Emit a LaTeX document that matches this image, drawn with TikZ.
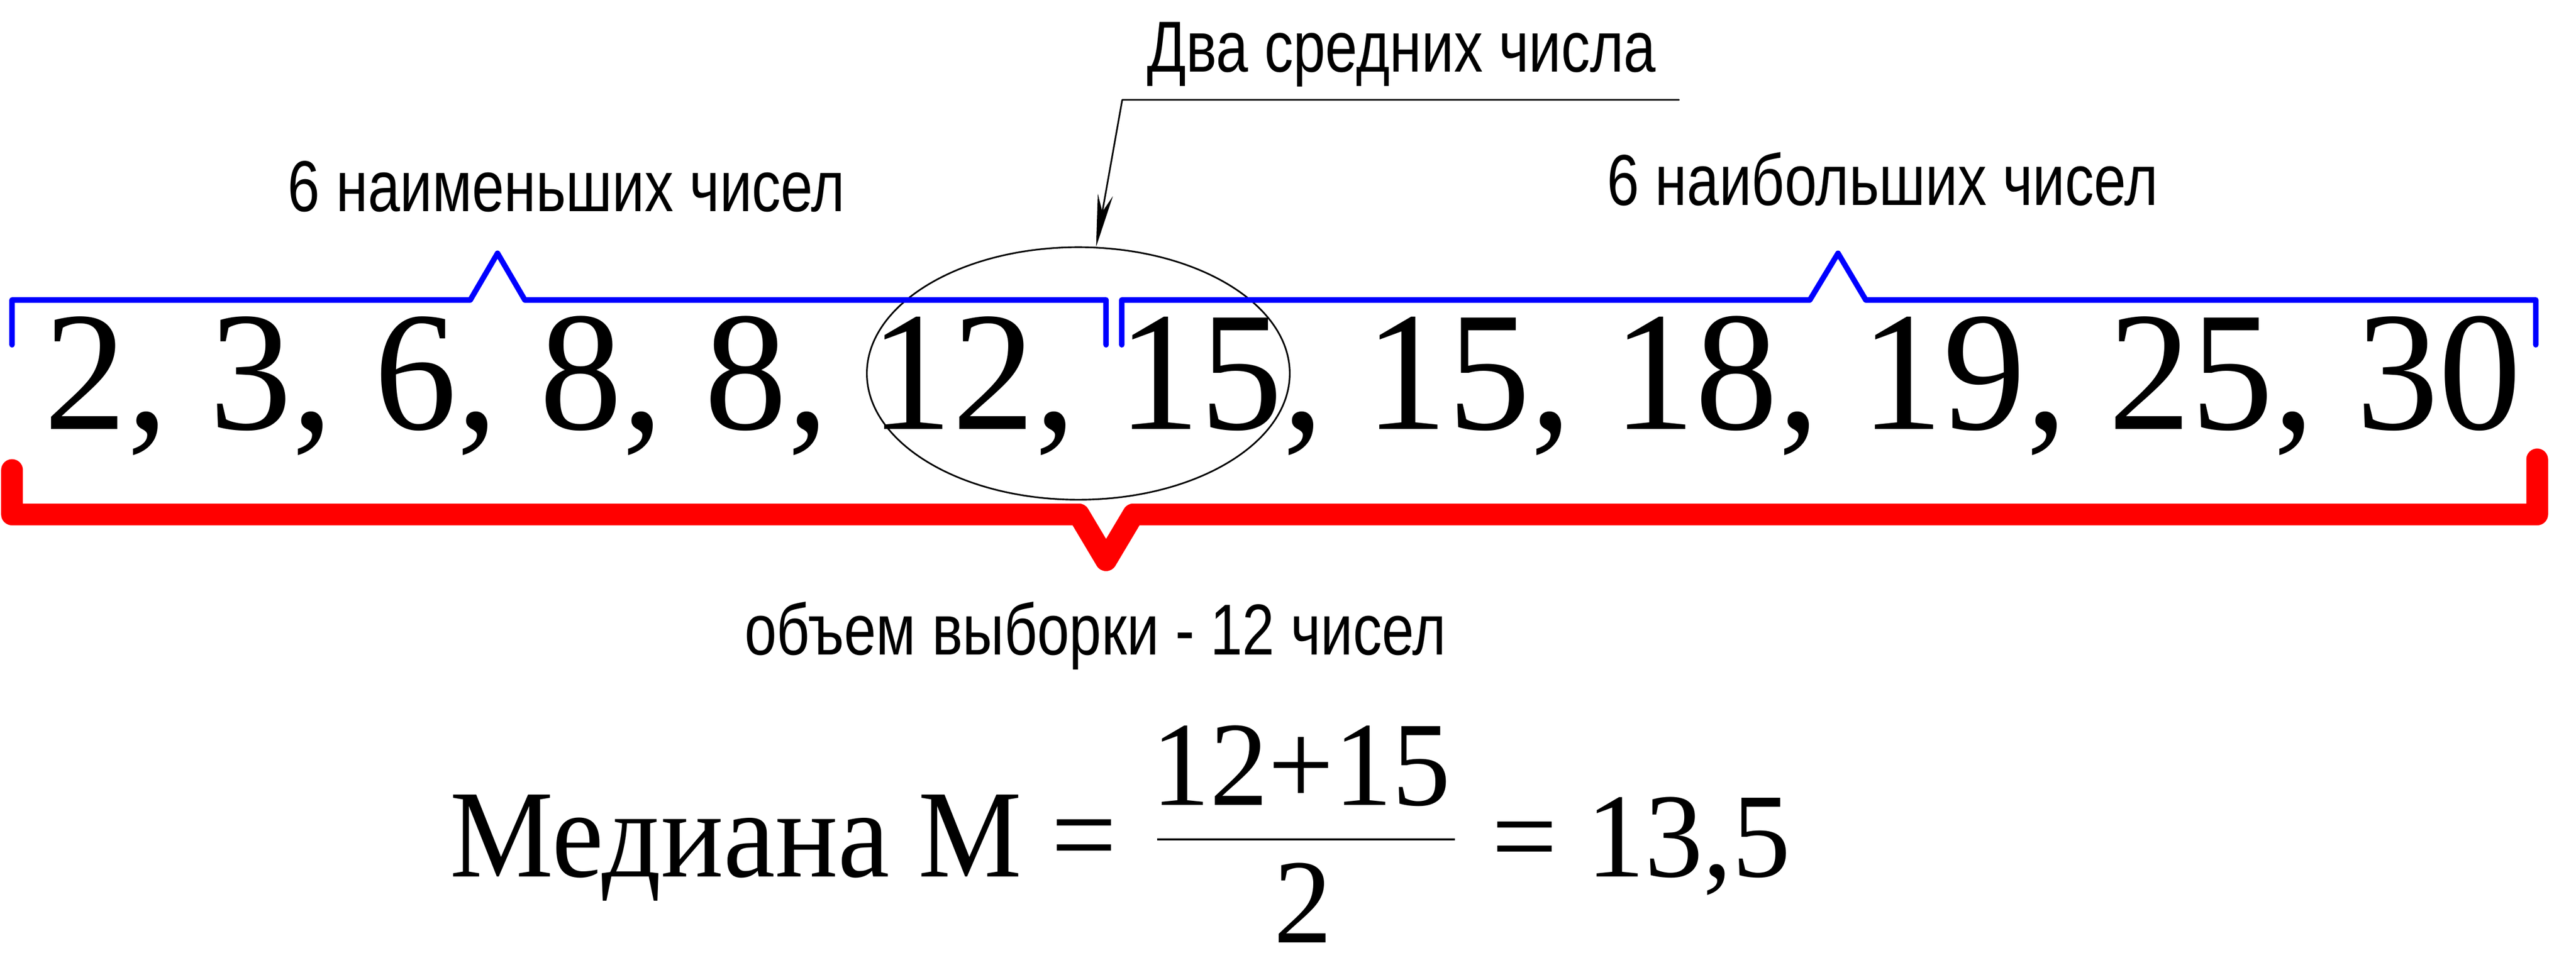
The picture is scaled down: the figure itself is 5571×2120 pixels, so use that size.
\documentclass[tikz,border=0pt]{standalone}
\usepackage{fontspec}
\newfontfamily\numfont{Liberation Serif}[FakeStretch=0.97]
\newfontfamily\medfont{Liberation Serif}[FakeStretch=0.93]
\newfontfamily\gostfont{Liberation Sans}[FakeStretch=0.80]
\usetikzlibrary{arrows.meta,shapes.geometric}

\begin{document}
\begin{tikzpicture}[line cap=round,line join=round,x=0.01cm,y=-0.01cm,
		every node/.style={inner sep=0pt},
		lbl/.style={font=\gostfont\fontsize{44.4}{50}\selectfont,anchor=base west},
		row/.style={font=\numfont\fontsize{104.7}{120}\selectfont,anchor=base west},
		frm/.style={font=\numfont\fontsize{74}{84}\selectfont},
		halfbr/.style={line width=3.4pt,blue},
		fullbr/.style={line width=13.4pt,red},
		leader/.style={line width=1pt,-{Stealth[length=1.14cm,width=0.33cm]}}]
		\useasboundingbox (0,0) rectangle (5571,2120);
		% the sample
		\node[row] (sample) at (95,929) {2, 3, 6, 8, 8, 12, 15, 15, 18, 19, 25, 30};
		\node[draw,ellipse,line width=1pt,minimum width=9.14cm,minimum height=5.46cm] (mid) at (2332,808) {};
		% brackets
		\draw [halfbr] (26,746) -- (26,649) -- (1017,649) -- (1076,548) -- (1135,649) -- (2392,649) -- (2392,746);
		\draw [halfbr] (2426,746) -- (2426,649) -- (3914,649) -- (3975,548) -- (4035,649) -- (5484,649) -- (5484,746);
		\draw [fullbr] (26,1017) -- (26,1113) -- (2333,1113) -- (2392,1212) -- (2451,1113) -- (5487,1113) -- (5487,994);
		% labels
		\node[lbl] (low) at (622,457) {6 наименьших чисел};
		\node[lbl] (high) at (3475,444) {6 наибольших чисел};
		\node[lbl] (two) at (2480,155) {Два средних числа};
		\node[lbl] (size) at (1610,1417) {объем выборки - 12 чисел};
		\coordinate (lend) at (3631,216);
		\coordinate (bend) at (2427,216);
		\draw [leader] (lend) -- (bend) -- (mid.82);
		% median
		\node[frm,font=\medfont\fontsize{77}{88}\selectfont,anchor=base east] (med) at (2416,1897) {Медиана М =};
		\node[frm,anchor=base] (numer) at (2814,1742) {12+15};
		\node[frm,anchor=base] (denom) at (2818,2039) {2};
		\draw [line width=1.4pt,line cap=butt] (2503,1816) -- (3147,1816);
		\node[frm,anchor=base west] (res) at (3225,1897) {= 13,5};
	\end{tikzpicture}
\end{document}
